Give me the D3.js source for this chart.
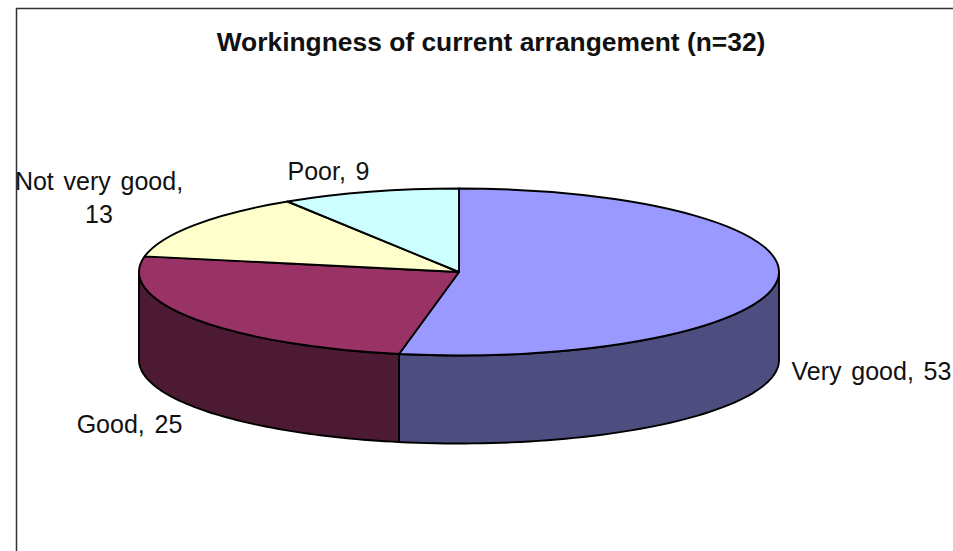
<!DOCTYPE html>
<html><head><meta charset="utf-8">
<script src="https://cdn.jsdelivr.net/npm/d3@7"></script>
<style>html,body{margin:0;padding:0;background:#fff;overflow:hidden}svg{display:block}
text{font-family:"Liberation Sans",Arial,sans-serif;fill:#111}</style></head><body>
<svg id="c" width="953" height="551"></svg>
<script>
const categories = ["Very good","Good","Not very good","Poor"];
const values = [53,25,13,9];
const topColors = ["#9999ff","#993366","#ffffcc","#ccffff"];
const sideColors = ["#4d4d80","#4d1a33","#808066","#668080"];
const chartTitle = "Workingness of current arrangement (n=32)";
const labelLines = [["Very good, 53"],["Good, 25"],["Not very good,","13"],["Poor, 9"]];
const labelAnchors = [[871.5,380],[129.5,433],[99,190],[328.5,180]];

const svg = d3.select("#c");
const cx = 459, cy = 272, rx = 320, ry = 83.5, depth = 88;

svg.append("path").attr("d","M953,8.5H16.5V551").attr("fill","none").attr("stroke","#333").attr("stroke-width",1.5);

svg.append("text").attr("x",491).attr("y",51).attr("text-anchor","middle")
  .attr("font-size",26.4).attr("font-weight","bold").text(chartTitle);

const pie = d3.pie().sort(null).value(d=>d);
const arcs = pie(values);
const px = a => cx + rx*Math.sin(a);
const py = a => cy - ry*Math.cos(a);

// Side walls: only the front half of the ellipse (angles between PI/2 and 3PI/2) is visible
const lo = Math.PI/2, hi = 3*Math.PI/2;
arcs.forEach((d,i)=>{
  const a0 = Math.max(d.startAngle,lo), a1 = Math.min(d.endAngle,hi);
  if (a1 <= a0) return;
  const steps = d3.range(0,61).map(k=>a0+(a1-a0)*k/60);
  const area = d3.area().x(px).y0(py).y1(a=>py(a)+depth);
  svg.append("path").attr("d",area(steps)).attr("fill",sideColors[i])
    .attr("stroke","#000").attr("stroke-width",1.9).attr("stroke-linejoin","round");
});

// Top face
const arc = d3.arc().innerRadius(0).outerRadius(rx);
const topFace = svg.append("g").attr("transform",`translate(${cx},${cy}) scale(1,${ry/rx})`);
topFace.selectAll("path").data(arcs).join("path")
  .attr("d",arc).attr("fill",(d,i)=>topColors[i])
  .attr("stroke","#000").attr("stroke-width",1.9).attr("stroke-linejoin","round")
  .attr("vector-effect","non-scaling-stroke");

// Labels
labelLines.forEach((lines,i)=>{
  const t = svg.append("text").attr("text-anchor","middle").attr("font-size",25).attr("word-spacing",2.8);
  lines.forEach((s,j)=>t.append("tspan").attr("x",labelAnchors[i][0]).attr("y",labelAnchors[i][1]+j*33).text(s));
});
</script></body></html>
